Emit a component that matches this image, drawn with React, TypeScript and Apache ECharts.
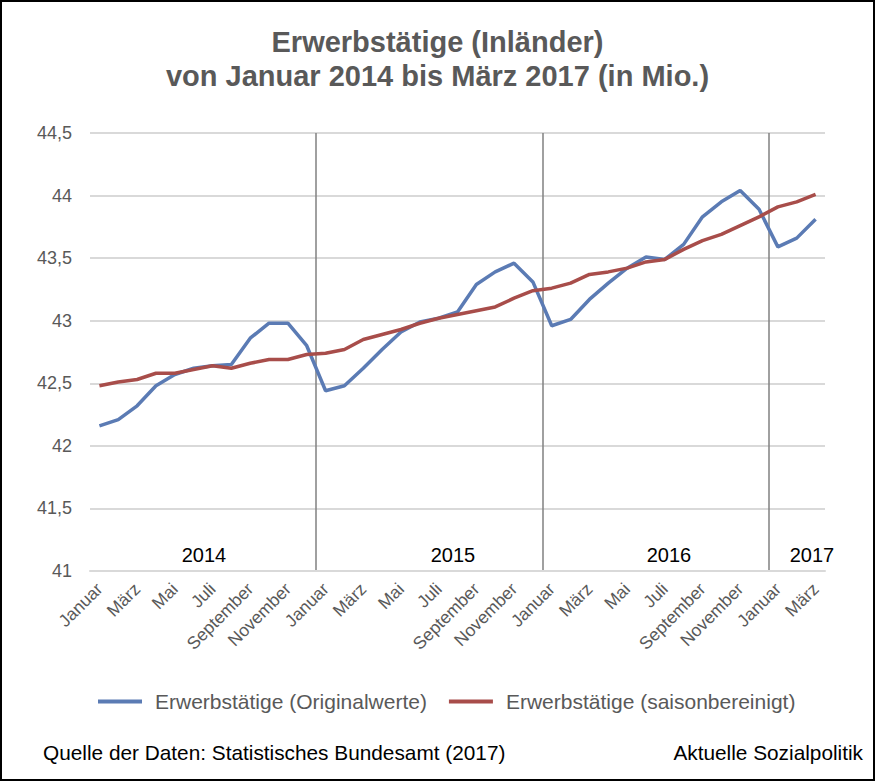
import React, { useEffect, useRef } from "react";
import * as echarts from "echarts";

const MONTHS = ["Januar","Februar","März","April","Mai","Juni","Juli","August","September","Oktober","November","Dezember"];
const categories: string[] = [];
for (let y = 2014; y <= 2017; y++) {
  for (let m = 0; m < 12; m++) {
    if (y === 2017 && m > 2) break;
    categories.push(MONTHS[m]);
  }
}

const originalwerte = [
  42.16, 42.21, 42.32, 42.48, 42.57, 42.62, 42.64, 42.65, 42.86, 42.98, 42.98, 42.80,
  42.44, 42.48, 42.62, 42.77, 42.91, 42.99, 43.02, 43.07, 43.29, 43.39, 43.46, 43.31,
  42.96, 43.01, 43.17, 43.30, 43.42, 43.51, 43.49, 43.61, 43.83, 43.95, 44.04, 43.89,
  43.59, 43.66, 43.81,
];

const saisonbereinigt = [
  42.48, 42.51, 42.53, 42.58, 42.58, 42.61, 42.64, 42.62, 42.66, 42.69, 42.69, 42.73,
  42.74, 42.77, 42.85, 42.89, 42.93, 42.98, 43.02, 43.05, 43.08, 43.11, 43.18, 43.24,
  43.26, 43.30, 43.37, 43.39, 43.42, 43.47, 43.49, 43.57, 43.64, 43.69, 43.76, 43.83,
  43.91, 43.95, 44.01,
];

const yearLabels = ["2014", "2015", "2016", "2017"];
const yearBoundaries = [12, 24, 36];

export default function App() {
  const ref = useRef<HTMLDivElement>(null);
  useEffect(() => {
    document.body.style.margin = "0";
    if (!ref.current) return;
    const chart = echarts.init(ref.current, undefined, { renderer: "svg" });
    const font = "'Liberation Sans', Arial, sans-serif";
    const yearX = [202, 451, 667, 810];
    chart.setOption({
      animation: false,
      textStyle: { fontFamily: font },
      title: {
        text: "Erwerbstätige (Inländer)\nvon Januar 2014 bis März 2017 (in Mio.)",
        left: "center",
        top: 18,
        textStyle: { fontSize: 29, fontWeight: "bold", color: "#595959", lineHeight: 34, fontFamily: font },
      },
      grid: { left: 88, right: 48, top: 131, bottom: 208 },
      legend: {
        top: 684,
        left: 91,
        icon: "rect",
        itemWidth: 44,
        itemHeight: 4,
        itemGap: 22,
        textStyle: { fontSize: 21, color: "#595959", fontFamily: font, padding: [0, 0, 0, 8] },
        data: ["Erwerbstätige (Originalwerte)", "Erwerbstätige (saisonbereinigt)"],
      },
      xAxis: {
        type: "category",
        data: categories,
        boundaryGap: true,
        axisLine: { show: true, lineStyle: { color: "#d9d9d9", width: 2 } },
        axisTick: { show: false },
        splitLine: {
          show: true,
          showMinLine: true,
          showMaxLine: false,
          interval: (i: number) => yearBoundaries.includes(i),
          lineStyle: { color: "#808080", width: 1.5 },
        },
        axisLabel: {
          interval: (i: number) => i % 2 === 0,
          rotate: 45,
          fontSize: 17.5,
          color: "#595959",
          margin: 15,
          fontFamily: font,
        },
      },
      yAxis: {
        type: "value",
        min: 41,
        max: 44.5,
        interval: 0.5,
        axisLine: { show: false },
        axisTick: { show: false },
        splitLine: { lineStyle: { color: "#d9d9d9", width: 2 } },
        axisLabel: {
          fontSize: 18,
          color: "#595959",
          margin: 18,
          fontFamily: font,
          formatter: (v: number) => String(v).replace(".", ","),
        },
      },
      series: [
        {
          name: "Erwerbstätige (Originalwerte)",
          type: "line",
          data: originalwerte,
          symbol: "none",
          lineStyle: { color: "#5B7BB4", width: 3.5 },
          itemStyle: { color: "#5B7BB4" },
          z: 3,
        },
        {
          name: "Erwerbstätige (saisonbereinigt)",
          type: "line",
          data: saisonbereinigt,
          symbol: "none",
          lineStyle: { color: "#A84D4A", width: 3.5 },
          itemStyle: { color: "#A84D4A" },
          z: 4,
        },
      ],
      graphic: [
        ...yearLabels.map((t, k) => ({
          type: "text",
          x: yearX[k],
          y: 553,
          style: { text: t, fontSize: 20, fill: "#000", align: "center", verticalAlign: "middle", fontFamily: font },
        })),
        {
          type: "text",
          x: 41,
          y: 750,
          style: { text: "Quelle der Daten: Statistisches Bundesamt (2017)", fontSize: 20.8, fill: "#000", verticalAlign: "middle", fontFamily: font },
        },
        {
          type: "text",
          x: 861,
          y: 750,
          style: { text: "Aktuelle Sozialpolitik", fontSize: 20.8, fill: "#000", align: "right", verticalAlign: "middle", fontFamily: font },
        },
      ],
    });
    return () => chart.dispose();
  }, []);
  return (
    <div style={{ width: 875, height: 781, boxSizing: "border-box", border: "2px solid #000", background: "#fff" }}>
      <div ref={ref} style={{ width: 871, height: 777 }} />
    </div>
  );
}
